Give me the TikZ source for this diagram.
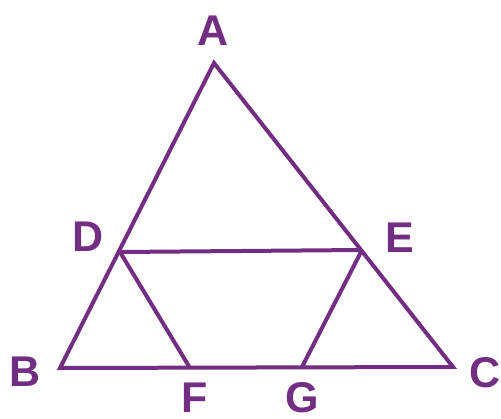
\documentclass[tikz,border=0pt]{standalone}
\usepackage{fontspec}
\setmainfont{Liberation Sans}
\usepackage{tikz}
\definecolor{figpurple}{HTML}{732D82}

\begin{document}
\begin{tikzpicture}[x=1pt,y=1pt,
    edge/.style={figpurple,line width=4pt,line join=miter,line cap=butt},
    vlabel/.style={text=figpurple,font=\fontsize{43}{43}\selectfont\bfseries,inner sep=0pt}]
    \useasboundingbox (0,0) rectangle (501,418);
    % vertices
    \coordinate (A) at (214,355);
    \coordinate (B) at (60,50);
    \coordinate (C) at (453,51);
    \coordinate (D) at (120,166);
    \coordinate (E) at (362,168);
    \coordinate (F) at (190,50);
    \coordinate (G) at (302,51);
    % sides and inner segments
    \draw[edge] (A) -- (B) -- (C) -- cycle;
    \draw[edge] (D) -- (E);
    \draw[edge] (D) -- (F);
    \draw[edge] (E) -- (G);
    % labels
    \node[vlabel] (lA) at (213,387) {A};
    \node[vlabel] (lB) at (25,46) {B};
    \node[vlabel] (lC) at (485,45) {C};
    \node[vlabel] (lD) at (88,181) {D};
    \node[vlabel] (lE) at (400,180) {E};
    \node[vlabel] (lF) at (195,20) {F};
    \node[vlabel] (lG) at (302,20) {G};
\end{tikzpicture}
\end{document}
